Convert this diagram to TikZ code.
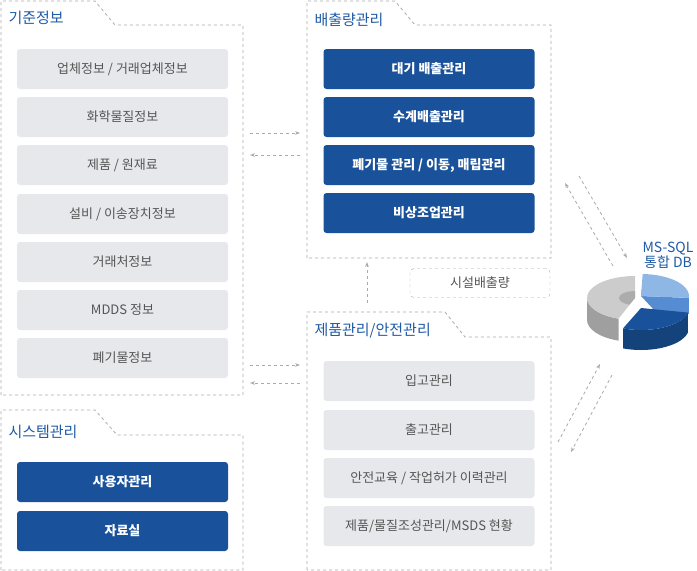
\documentclass[tikz,border=0pt]{standalone}
\usepackage{fontspec}
\setmainfont{Noto Sans CJK KR}
\usetikzlibrary{positioning, arrows.meta}

\definecolor{titleblue}{HTML}{1F5AA6}
\definecolor{boxblue}{HTML}{19529A}
\definecolor{boxgray}{HTML}{E6E8EB}
\definecolor{textgray}{HTML}{555555}
\definecolor{lineg}{HTML}{AAAAAA}

\begin{document}
\begin{tikzpicture}[x=1pt, y=-1pt,
    panel/.style={draw=lineg, dashed, line width=0.8pt},
    ptitle/.style={anchor=west, font=\fontsize{15}{17}\selectfont, text=titleblue},
    graybox/.style={fill=boxgray, rounded corners=3pt, minimum width=211pt, minimum height=40pt, font=\fontsize{13}{15}\selectfont, text=textgray},
    bluebox/.style={fill=boxblue, rounded corners=3pt, minimum width=211pt, minimum height=40pt, font=\fontsize{13}{15}\selectfont\bfseries, text=white},
    flow/.style={draw=lineg, dashed, line width=0.8pt, -{Stealth[length=5pt, open]}}
]
\useasboundingbox (0,0) rectangle (697,571);

% panels
\draw[panel] (1,395) -- (1,1) -- (95,1) -- (115,25) -- (243,25) -- (243,395) -- cycle;
\draw[panel] (1,570) -- (1,410) -- (95,410) -- (117,435) -- (243,435) -- (243,570) -- cycle;
\draw[panel] (307,258) -- (307,1) -- (395,1) -- (415,25) -- (551,25) -- (551,258) -- cycle;
\draw[panel] (307,570) -- (307,312) -- (445,312) -- (465,337) -- (551,337) -- (551,570) -- cycle;

\node[ptitle] (t1) at (5,18) {기준정보};
\node[ptitle] (t2) at (5,432) {시스템관리};
\node[ptitle] (t3) at (311,20) {배출량관리};
\node[ptitle] (t4) at (311,331) {제품관리/안전관리};

% basic info
\node[graybox] (b1) at (122.5,69) {업체정보 / 거래업체정보};
\node[graybox] (b2) at (122.5,117) {화학물질정보};
\node[graybox] (b3) at (122.5,165) {제품 / 원재료};
\node[graybox] (b4) at (122.5,214) {설비 / 이송장치정보};
\node[graybox] (b5) at (122.5,262) {거래처정보};
\node[graybox] (b6) at (122.5,310) {MDDS 정보};
\node[graybox] (b7) at (122.5,358) {폐기물정보};

% system
\node[bluebox] (s1) at (122.5,482) {사용자관리};
\node[bluebox] (s2) at (122.5,531) {자료실};

% emissions
\node[bluebox] (e1) at (429,69) {대기 배출관리};
\node[bluebox] (e2) at (429,117) {수계배출관리};
\node[bluebox] (e3) at (429,165) {폐기물 관리 / 이동, 매립관리};
\node[bluebox] (e4) at (429,213) {비상조업관리};

% products / safety
\node[graybox] (p1) at (429,381) {입고관리};
\node[graybox] (p2) at (429,430) {출고관리};
\node[graybox] (p3) at (429,478) {안전교육 / 작업허가 이력관리};
\node[graybox] (p4) at (429,526) {제품/물질조성관리/MSDS 현황};

\node[draw=lineg, dashed, rounded corners=4pt, minimum width=140pt, minimum height=29pt, font=\fontsize{13}{15}\selectfont, text=textgray] (fac) at (480,283) {시설배출량};

% DB
\node[font=\fontsize{14}{15}\selectfont, text=titleblue, align=center] (db) at (668,255) {MS-SQL\\통합 DB};
\begin{scope}[shift={(635,298)}]
  % gray sector
  \fill[gray!75] (110:48 and 22) arc[start angle=110, end angle=180, x radius=48, y radius=22] -- ++(0,22) arc[start angle=180, end angle=110, x radius=48, y radius=22] -- cycle;
  \fill[gray!40] (0,0) -- (110:48 and 22) arc[start angle=110, end angle=270, x radius=48, y radius=22] -- cycle;
  \fill[gray!65] (0,0) -- (110:16 and 7) arc[start angle=110, end angle=270, x radius=16, y radius=7] -- cycle;
  % light blue sector
  \begin{scope}[shift={(6,-2)}]
    \fill[cyan!50!blue!70] (0,0) -- (5:48 and 22) -- ++(0,16) -- ++(-32,-1) -- cycle;
    \fill[cyan!60!blue!45] (0,0) -- (272:48 and 22) arc[start angle=272, end angle=365, x radius=48, y radius=22] -- cycle;
    \fill[cyan!60!blue!45] (0,0) -- (272:16 and 7) arc[start angle=272, end angle=365, x radius=16, y radius=7] -- cycle;
  \end{scope}
  % dark blue sector
  \begin{scope}[shift={(6,10)}]
    \fill[boxblue!80!black] (12:48 and 22) arc[start angle=12, end angle=112, x radius=48, y radius=22] -- ++(0,20) arc[start angle=112, end angle=12, x radius=48, y radius=22] -- cycle;
    \fill[boxblue] (0,0) -- (12:48 and 22) arc[start angle=12, end angle=112, x radius=48, y radius=22] -- cycle;
  \end{scope}
\end{scope}

% connector ends
\coordinate (la1) at (250,133); \coordinate (ra1) at (300,133);
\coordinate (la2) at (250,155); \coordinate (ra2) at (300,155);
\coordinate (la3) at (250,365); \coordinate (ra3) at (300,365);
\coordinate (la4) at (250,383); \coordinate (ra4) at (300,383);
\coordinate (up1) at (367,303); \coordinate (up2) at (367,262);
\coordinate (d1a) at (565,183); \coordinate (d1b) at (613,266);
\coordinate (d2a) at (579,176); \coordinate (d2b) at (627,258);
\coordinate (d3a) at (558,442); \coordinate (d3b) at (600,364);
\coordinate (d4a) at (571,452); \coordinate (d4b) at (612,375);

\draw[flow] (la1) -- (ra1);
\draw[flow] (ra2) -- (la2);
\draw[flow] (la3) -- (ra3);
\draw[flow] (ra4) -- (la4);
\draw[flow] (up1) -- (up2);
\draw[flow] (d1b) -- (d1a);
\draw[flow] (d2a) -- (d2b);
\draw[flow] (d3a) -- (d3b);
\draw[flow] (d4b) -- (d4a);

\end{tikzpicture}
\end{document}
